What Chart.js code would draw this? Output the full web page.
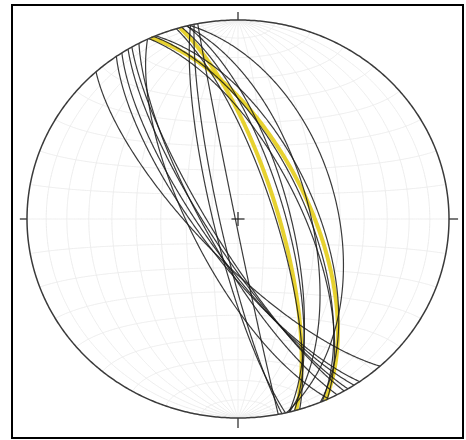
<!DOCTYPE html>
<html>
<head>
<meta charset="utf-8">
<script src="https://cdn.jsdelivr.net/npm/chart.js@4.4.0/dist/chart.umd.min.js"></script>
<style>
  html, body { margin: 0; padding: 0; background: #fff; }
  canvas { display: block; }
</style>
</head>
<body>
<canvas id="net" width="466" height="440"></canvas>
<script>
// Planes: strike (right-hand rule) and dip, degrees
const yellowStrikes = [335.6, 344];
const yellowDips = [62.4, 74.6];

const blackStrikes = [
    336.5, 337, 335, 344.5, 346, 343, 345.9, 346.7,   // dipping ENE
    169, 167, 168,                                    // steep, through the centre
    137.7, 144.8, 146.6, 148.6, 149.8, 152, 154.6     // dipping SW
];
const blackDips = [
    64, 60, 66, 72, 70, 76, 62.2, 51,
    89, 80.5, 83,
    74, 74.5, 76, 78, 79.4, 77, 71.5
];

// net grid spacing (degrees)
const gridStep = 10;

// Equal-area (Schmidt) lower-hemisphere projection of a unit vector (east, north, down)
function project(e, n, z) {
    const k = 1 / Math.sqrt(1 + z);
    return { x: e * k, y: n * k };
}

function planePoints(strike, dip) {
    const s = strike * Math.PI / 180;
    const d = dip * Math.PI / 180;
    const dd = s + Math.PI / 2;
    const sv = [Math.sin(s), Math.cos(s), 0];
    const dv = [Math.cos(d) * Math.sin(dd), Math.cos(d) * Math.cos(dd), Math.sin(d)];
    const pts = [];
    for (let i = 0; i <= 180; i++) {
        const t = i * Math.PI / 180;
        pts.push(project(
            Math.cos(t) * sv[0] + Math.sin(t) * dv[0],
            Math.cos(t) * sv[1] + Math.sin(t) * dv[1],
            Math.max(0, Math.sin(t) * dv[2])
        ));
    }
    return pts;
}

function netPoint(lon, lat) {
    const la = lat * Math.PI / 180, lo = lon * Math.PI / 180;
    return project(Math.cos(la) * Math.sin(lo), Math.sin(la), Math.cos(la) * Math.cos(lo));
}

const datasets = [];

function addLine(data, color, width, order) {
    datasets.push({
        data: data,
        showLine: true,
        borderColor: color,
        borderWidth: width,
        borderJoinStyle: 'round',
        pointRadius: 0,
        fill: false,
        tension: 0.0001,   // keeps Chart.js off its x-sorted fast path
        clip: false,
        order: order
    });
}

// grid: meridians and parallels
for (let lon = -90 + gridStep; lon < 90; lon += gridStep) {
    const pts = [];
    for (let lat = -90; lat <= 90; lat += 1) pts.push(netPoint(lon, lat));
    addLine(pts, '#ebebeb', 1, 10);
}
for (let lat = -90 + gridStep; lat < 90; lat += gridStep) {
    const pts = [];
    for (let lon = -90; lon <= 90; lon += 1) pts.push(netPoint(lon, lat));
    addLine(pts, '#ebebeb', 1, 10);
}

// primitive circle
const primitive = [];
for (let a = 0; a <= 360; a += 1) {
    primitive.push({ x: Math.sin(a * Math.PI / 180), y: Math.cos(a * Math.PI / 180) });
}
addLine(primitive, '#3a3a3a', 1.5, 1);

// ticks at N, E, S, W and centre cross
addLine([{ x: 0, y: 1 }, { x: 0, y: 1.04 }], '#222', 1.2, 1);
addLine([{ x: 0, y: -1 }, { x: 0, y: -1.05 }], '#222', 1.2, 1);
addLine([{ x: -1, y: 0 }, { x: -1.034, y: 0 }], '#222', 1.2, 1);
addLine([{ x: 1, y: 0 }, { x: 1.043, y: 0 }], '#222', 1.2, 1);
addLine([{ x: -0.031, y: 0 }, { x: 0.031, y: 0 }], '#222', 1.2, 1);
addLine([{ x: 0, y: -0.035 }, { x: 0, y: 0.035 }], '#222', 1.2, 1);

// great circles
yellowStrikes.forEach((s, i) => {
    addLine(planePoints(s, yellowDips[i]), 'rgba(228, 205, 25, 0.9)', 4, 6);
});
blackStrikes.forEach((s, i) => {
    addLine(planePoints(s, blackDips[i]), 'rgba(25, 25, 25, 0.85)', 1.2, 4);
});

const frame = {
    id: 'frame',
    afterDraw(chart) {
        const ctx = chart.ctx;
        ctx.save();
        ctx.strokeStyle = '#000';
        ctx.lineWidth = 2;
        ctx.strokeRect(12, 5, 451, 433);
        ctx.restore();
    }
};

new Chart(document.getElementById('net'), {
    type: 'scatter',
    data: { datasets: datasets },
    options: {
        responsive: false,
        animation: false,
        layout: { padding: { left: 27, right: 17, top: 20, bottom: 22 } },
        plugins: { legend: { display: false }, tooltip: { enabled: false } },
        scales: {
            x: { type: 'linear', min: -1, max: 1, display: false },
            y: { type: 'linear', min: -1, max: 1, display: false }
        }
    },
    plugins: [frame]
});
</script>
</body>
</html>
